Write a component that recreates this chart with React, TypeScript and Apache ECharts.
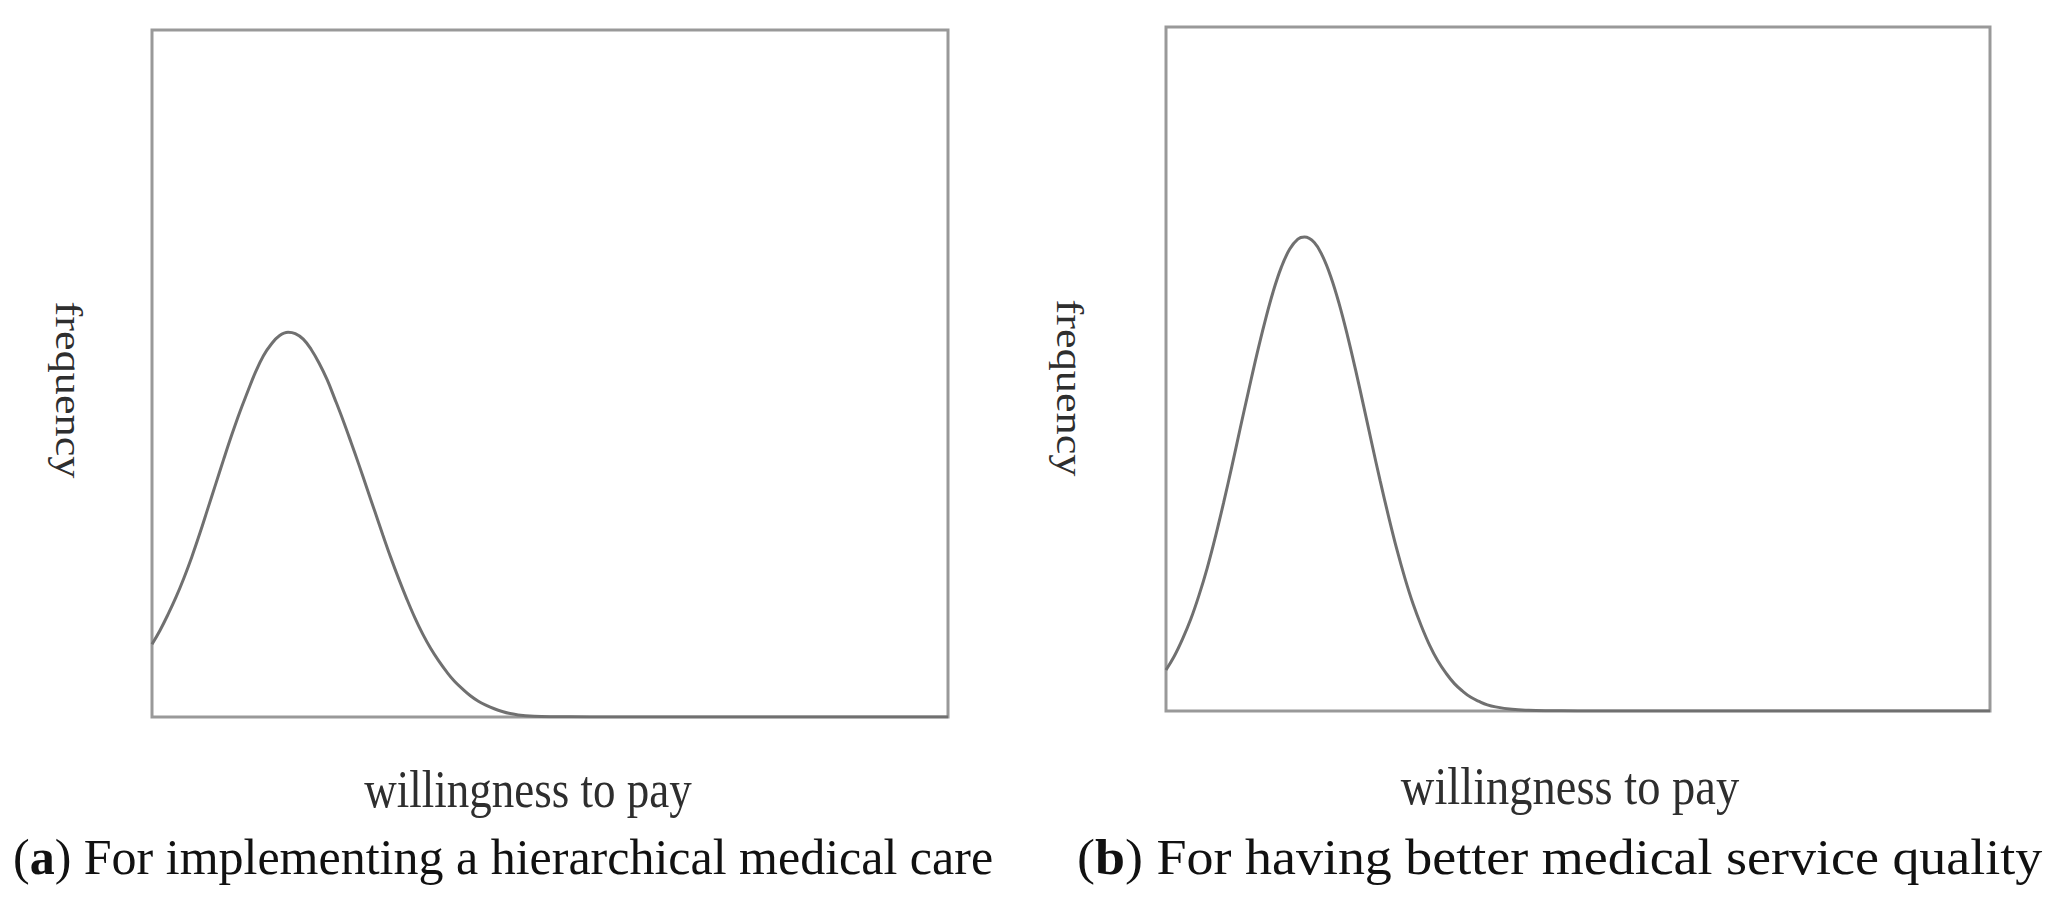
import React, { useEffect, useRef } from "react";
import * as echarts from "echarts";

// ---- Data (x: % of axis width, y: % of axis height) ----
const leftX = [0, 1, 2, 3, 4, 5, 6, 7, 8, 9, 10, 11, 12, 13, 14, 15, 16, 17.1, 18, 19, 20, 21, 22, 23, 24, 25, 26, 27, 28, 29, 30, 31, 32, 33, 34, 35, 36, 37, 38, 39, 40, 41, 42, 43, 44, 45, 46, 48, 50, 55, 60, 70, 80, 90, 100];
const leftY = [10.6, 12.6, 14.9, 17.4, 20.2, 23.3, 26.7, 30.3, 33.9, 37.5, 41.0, 44.3, 47.3, 50.2, 52.6, 54.3, 55.5, 56.0, 55.8, 55.0, 53.5, 51.5, 49.1, 46.2, 43.2, 40.0, 36.7, 33.3, 29.9, 26.5, 23.2, 20.1, 17.2, 14.5, 12.1, 10.0, 8.2, 6.6, 5.2, 4.1, 3.1, 2.3, 1.7, 1.2, 0.8, 0.5, 0.3, 0.12, 0.05, 0.01, 0, 0, 0, 0, 0];

const rightX = [0, 1, 2, 3, 4, 5, 6, 7, 8, 9, 10, 11, 12, 13, 14, 15, 16, 16.8, 18, 19, 20, 21, 22, 23, 24, 25, 26, 27, 28, 29, 30, 31, 32, 33, 34, 35, 36, 37, 38, 39, 40, 42, 44, 46, 50, 55, 60, 70, 80, 90, 100];
const rightY = [6.0, 8.0, 10.5, 13.4, 16.9, 20.9, 25.5, 30.5, 35.8, 41.3, 46.7, 52.0, 56.9, 61.3, 64.9, 67.5, 69.0, 69.3, 68.5, 66.5, 63.5, 59.6, 55.0, 49.9, 44.5, 39.0, 33.6, 28.5, 23.7, 19.4, 15.6, 12.4, 9.6, 7.3, 5.5, 4.0, 2.9, 2.0, 1.4, 0.9, 0.6, 0.25, 0.1, 0.04, 0.01, 0, 0, 0, 0, 0, 0];

const xAxisTitle = "willingness to pay";
const yAxisTitle = "frequency";
const captionA = { tag: "a", text: " For implementing a hierarchical medical care" };
const captionB = { tag: "b", text: " For having better medical service quality" };

const SERIF = '"Liberation Serif", "Times New Roman", serif';

function pairs(xs: number[], ys: number[]) {
  return xs.map((x, i) => [x, ys[i]]);
}

export default function App() {
  const ref = useRef<HTMLDivElement>(null);

  useEffect(() => {
    if (!ref.current) return;
    const chart = echarts.init(ref.current, null, { renderer: "svg" });

    const gridStyle = {
      show: true,
      borderColor: "#999999",
      borderWidth: 3,
      backgroundColor: "transparent",
    };
    const hiddenAxis = (gridIndex: number) => ({
      type: "value" as const,
      gridIndex,
      min: 0,
      max: 100,
      axisLine: { show: false },
      axisTick: { show: false },
      axisLabel: { show: false },
      splitLine: { show: false },
    });

    const titleStyle = (size: number) => ({
      fontFamily: SERIF,
      fontSize: size,
      fill: "#2e2e2e",
      align: "center",
      verticalAlign: "middle",
      textAlign: "center",
      textVerticalAlign: "middle",
    });
    const captionStyle = (c: { tag: string; text: string }) => ({
      text: "(" + "{b|" + c.tag + "})" + c.text,
      fontFamily: SERIF,
      fontSize: 50,
      fill: "#111",
      align: "left",
      verticalAlign: "middle",
      textAlign: "left",
      textVerticalAlign: "middle",
      rich: {
        b: { fontFamily: SERIF, fontSize: 50, fontWeight: "bold", fill: "#111", color: "#111" },
      },
    });

    const lineStyle = { color: "#707070", width: 3 };

    chart.setOption({
      animation: false,
      backgroundColor: "#ffffff",
      grid: [
        { left: 152, top: 30, width: 796, height: 687, ...gridStyle },
        { left: 1166, top: 27, width: 824, height: 684, ...gridStyle },
      ],
      xAxis: [hiddenAxis(0), hiddenAxis(1)],
      yAxis: [hiddenAxis(0), hiddenAxis(1)],
      series: [
        {
          type: "line",
          xAxisIndex: 0,
          yAxisIndex: 0,
          data: pairs(leftX, leftY),
          symbol: "none",
          smooth: 0.4,
          lineStyle,
          silent: true,
        },
        {
          type: "line",
          xAxisIndex: 1,
          yAxisIndex: 1,
          data: pairs(rightX, rightY),
          symbol: "none",
          smooth: 0.4,
          lineStyle,
          silent: true,
        },
      ],
      graphic: [
        { type: "text", x: 528, y: 789, scaleY: 1.15, style: { text: xAxisTitle, ...titleStyle(45) } },
        { type: "text", x: 1570, y: 786, scaleY: 1.15, style: { text: xAxisTitle, ...titleStyle(46.5) } },
        { type: "text", x: 69, y: 390, rotation: -Math.PI / 2, scaleX: 1.15, style: { text: yAxisTitle, ...titleStyle(38.5) } },
        { type: "text", x: 1070, y: 388, rotation: -Math.PI / 2, scaleX: 1.15, style: { text: yAxisTitle, ...titleStyle(38.5) } },
        { type: "text", x: 13, y: 857, style: captionStyle(captionA) },
        { type: "text", x: 1077, y: 857, scaleX: 1.08, style: captionStyle(captionB) },
      ],
    });

    return () => chart.dispose();
  }, []);

  return (
    <div
      ref={ref}
      style={{ position: "fixed", left: 0, top: 0, width: 2054, height: 910, background: "#fff" }}
    />
  );
}
